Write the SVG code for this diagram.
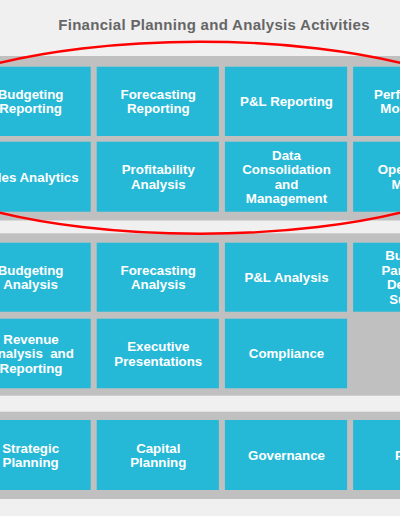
<svg xmlns="http://www.w3.org/2000/svg" width="400" height="516" viewBox="0 0 400 516">
<style>
.bg{fill:#f0f0f0}
.panel{fill:#c0c0c0}
.box{fill:#26b9d7}
.t{font-family:"Liberation Sans",Arial,sans-serif;font-weight:bold;font-size:13.3px;fill:#ffffff;text-anchor:middle}
.pre{white-space:pre}
.title{font-family:"Liberation Sans",Arial,sans-serif;font-weight:bold;font-size:15px;fill:#666666;text-anchor:middle;letter-spacing:0.3px}
.hl{fill:none;stroke:#ff0000;stroke-width:2.4}
</style>
<rect class="bg" x="0" y="0" width="400" height="516"/>
<text class="title" x="214" y="29.5">Financial Planning and Analysis Activities</text>

<g id="panel-reporting">
<rect class="panel" x="0" y="56" width="400" height="164.5"/>
</g>
<g id="panel-analysis">
<rect class="panel" x="0" y="233.3" width="400" height="162.4"/>
</g>
<g id="panel-planning">
<rect class="panel" x="0" y="411.7" width="400" height="87.3"/>
</g>

<g id="budgeting-reporting"><rect class="box" x="-31.5" y="66.7" width="122.2" height="69.3"/><text class="t" x="30.6"><tspan y="98.8">Budgeting</tspan><tspan x="30.6" y="113.4">Reporting</tspan></text></g>
<g id="forecasting-reporting"><rect class="box" x="96.7" y="66.7" width="122.2" height="69.3"/><text class="t" x="158.3"><tspan y="98.8">Forecasting</tspan><tspan x="158.3" y="113.4">Reporting</tspan></text></g>
<g id="pl-reporting"><rect class="box" x="224.9" y="66.7" width="122.2" height="69.3"/><text class="t" x="286.5" y="106.1">P&amp;L Reporting</text></g>
<g id="performance"><rect class="box" x="353.1" y="66.7" width="122.2" height="69.3"/><text class="t" x="414.7"><tspan y="98.8">Performance</tspan><tspan x="414.7" y="113.4">Monitoring</tspan></text></g>

<g id="sales-analytics"><rect class="box" x="-31.5" y="141.7" width="122.2" height="70"/><text class="t" x="30.1" y="181.5">Sales Analytics</text></g>
<g id="profitability-analysis"><rect class="box" x="96.7" y="141.7" width="122.2" height="70"/><text class="t" x="158.3"><tspan y="174.2">Profitability</tspan><tspan x="158.3" y="188.8">Analysis</tspan></text></g>
<g id="data-consolidation"><rect class="box" x="224.9" y="141.7" width="122.2" height="70"/><text class="t" x="286.5"><tspan y="159.6">Data</tspan><tspan x="286.5" y="174.2">Consolidation</tspan><tspan x="286.5" y="188.8">and</tspan><tspan x="286.5" y="203.4">Management</tspan></text></g>
<g id="operational"><rect class="box" x="353.1" y="141.7" width="122.2" height="70"/><text class="t" x="414.7"><tspan y="174.2">Operational</tspan><tspan x="414.7" y="188.8">Metrics</tspan></text></g>

<g id="budgeting-analysis"><rect class="box" x="-31.5" y="242.7" width="122.2" height="69"/><text class="t" x="30.6"><tspan y="274.7">Budgeting</tspan><tspan x="30.6" y="289.3">Analysis</tspan></text></g>
<g id="forecasting-analysis"><rect class="box" x="96.7" y="242.7" width="122.2" height="69"/><text class="t" x="158.3"><tspan y="274.7">Forecasting</tspan><tspan x="158.3" y="289.3">Analysis</tspan></text></g>
<g id="pl-analysis"><rect class="box" x="224.9" y="242.7" width="122.2" height="69"/><text class="t" x="286.5" y="282.2">P&amp;L Analysis</text></g>
<g id="business-partnering"><rect class="box" x="353.1" y="242.7" width="122.2" height="69"/><text class="t" x="414.7"><tspan y="260.1">Business</tspan><tspan x="414.7" y="274.7">Partnering</tspan><tspan x="414.7" y="289.3">Decision</tspan><tspan x="414.7" y="303.9">Support</tspan></text></g>

<g id="revenue-analysis"><rect class="box" x="-31.5" y="318.7" width="122.2" height="69.6"/><text class="t pre" x="31" xml:space="preserve"><tspan y="343.7">Revenue</tspan><tspan x="31" y="358.3">Analysis  and</tspan><tspan x="31" y="372.9">Reporting</tspan></text></g>
<g id="executive-presentations"><rect class="box" x="96.7" y="318.7" width="122.2" height="69.6"/><text class="t" x="158.3"><tspan y="351">Executive</tspan><tspan x="158.3" y="365.6">Presentations</tspan></text></g>
<g id="compliance"><rect class="box" x="224.9" y="318.7" width="122.2" height="69.6"/><text class="t" x="286.5" y="358.3">Compliance</text></g>

<g id="strategic-planning"><rect class="box" x="-31.5" y="420" width="122.2" height="70"/><text class="t" x="30.6"><tspan y="452.5">Strategic</tspan><tspan x="30.6" y="467.1">Planning</tspan></text></g>
<g id="capital-planning"><rect class="box" x="96.7" y="420" width="122.2" height="70"/><text class="t" x="158.3"><tspan y="452.5">Capital</tspan><tspan x="158.3" y="467.1">Planning</tspan></text></g>
<g id="governance"><rect class="box" x="224.9" y="420" width="122.2" height="70"/><text class="t" x="286.5" y="459.8">Governance</text></g>
<g id="policy"><rect class="box" x="353.1" y="420" width="122.2" height="70"/><text class="t" x="414.7" y="459.8">Policy</text></g>

<g id="connectors">
<ellipse class="hl" cx="200" cy="137.7" rx="320" ry="96"/>
</g>
</svg>
